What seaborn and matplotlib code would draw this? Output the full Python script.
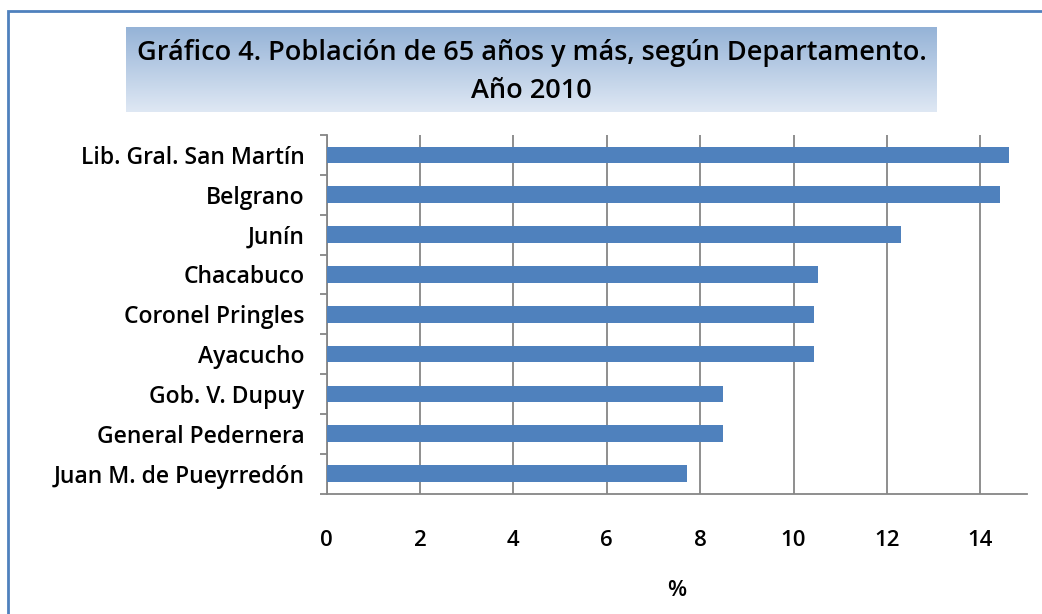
import matplotlib
matplotlib.use('Agg')
import matplotlib.pyplot as plt
import numpy as np
import pandas as pd
import seaborn as sns
from matplotlib.patches import Rectangle
from matplotlib.ticker import MultipleLocator

# Data
departamentos = ['Lib. Gral. San Martín', 'Belgrano', 'Junín', 'Chacabuco',
                 'Coronel Pringles', 'Ayacucho', 'Gob. V. Dupuy',
                 'General Pedernera', 'Juan M. de Pueyrredón']
porcentaje = [14.61, 14.43, 12.31, 10.53, 10.43, 10.43, 8.50, 8.50, 7.73]
x_ticks = [0, 2, 4, 6, 8, 10, 12, 14]

titulo = 'Gráfico 4. Población de 65 años y más, según Departamento.\nAño 2010'

sns.set_style('white')
plt.rcParams['font.family'] = ['Open Sans', 'DejaVu Sans']
plt.rcParams['text.color'] = 'black'
plt.rcParams['xtick.labelcolor'] = 'black'
plt.rcParams['ytick.labelcolor'] = 'black'
plt.rcParams['axes.labelcolor'] = 'black'

df = pd.DataFrame({'dep': departamentos, 'pct': porcentaje})

fig = plt.figure(figsize=(10.42, 6.14), dpi=100)
ax = fig.add_axes([326.5 / 1042, 1 - 493.5 / 614, (1027 - 326.5) / 1042, (493.5 - 135) / 614])

sns.barplot(data=df, x='pct', y='dep', orient='h', color='#4f81bd', saturation=1,
            width=0.42, linewidth=0, ax=ax, zorder=3)

ax.set_xlim(0, 15)
ax.set_ylim(8.5, -0.5)
ax.set_xticks(x_ticks)
ax.grid(axis='x', color='#868686', linewidth=1.3, zorder=0)
ax.grid(axis='y', visible=False)

for side in ['top', 'right']:
    ax.spines[side].set_visible(False)
for side in ['left', 'bottom']:
    ax.spines[side].set_color('#868686')
    ax.spines[side].set_linewidth(1.3)

ax.tick_params(axis='x', direction='out', length=7, width=1.3, color='#868686',
               pad=19, labelsize=16)
ax.tick_params(axis='y', which='major', length=0, pad=16, labelsize=16.5)
ax.yaxis.set_minor_locator(MultipleLocator(1, offset=0.5))
ax.tick_params(axis='y', which='minor', direction='out', length=5, width=1.3,
               color='#868686', left=True)
for lab in ax.get_xticklabels() + ax.get_yticklabels():
    lab.set_fontweight('semibold')

ax.set_ylabel('')
ax.set_xlabel('%', fontsize=16, fontweight='semibold', labelpad=21)

# title box with vertical gradient
grad = np.linspace(0, 1, 256).reshape(-1, 1)
cmap = matplotlib.colors.LinearSegmentedColormap.from_list('g', ['#95b3d7', '#dfe8f4'])
gax = fig.add_axes([126 / 1042, 1 - 112 / 614, (937 - 126) / 1042, (112 - 27) / 614])
gax.imshow(grad, aspect='auto', cmap=cmap, extent=[0, 1, 0, 1])
gax.axis('off')
gax.text(0.5, 0.47, titulo, ha='center', va='center', fontsize=19.5,
         fontweight='semibold', linespacing=1.45, transform=gax.transAxes)

# outer chart border
fig.patches.append(Rectangle((8 / 1042, -0.1), 1.2, 1 - 11 / 614 + 0.1,
                             transform=fig.transFigure, fill=False,
                             edgecolor='#4f81bd', linewidth=2))

fig.savefig('out.png', dpi=100)
